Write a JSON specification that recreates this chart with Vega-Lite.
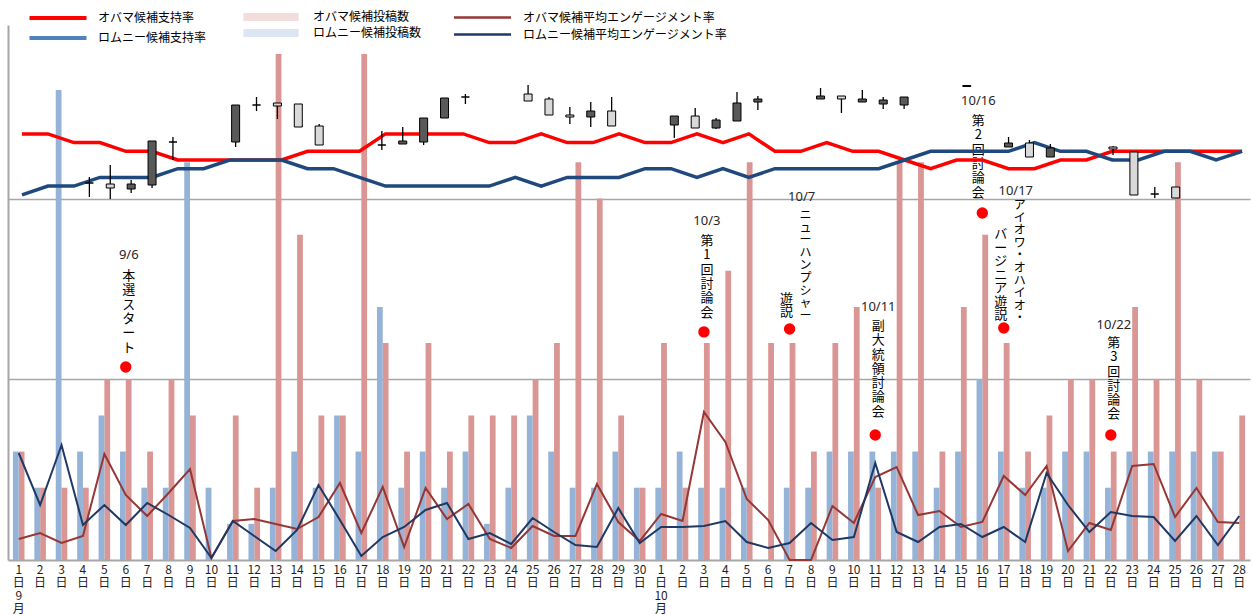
{
"$schema":"https://vega.github.io/schema/vega-lite/v6.json",
"autosize":{"type":"none"},
"width":1242,"height":535,
"padding":{"left":8,"top":25,"right":3,"bottom":55},
"background":"white",
"config":{"view":{"stroke":null},"font":"Noto Sans CJK JP"},
"datasets":{
"daily":[
{"d":1,"オバマ候補投稿数":3,"ロムニー候補投稿数":3,"オバマ候補平均エンゲージメント率":0.21,"ロムニー候補平均エンゲージメント率":1.07},
{"d":2,"オバマ候補投稿数":2,"ロムニー候補投稿数":2,"オバマ候補平均エンゲージメント率":0.27,"ロムニー候補平均エンゲージメント率":0.55},
{"d":3,"オバマ候補投稿数":2,"ロムニー候補投稿数":13,"オバマ候補平均エンゲージメント率":0.17,"ロムニー候補平均エンゲージメント率":1.15},
{"d":4,"オバマ候補投稿数":2,"ロムニー候補投稿数":3,"オバマ候補平均エンゲージメント率":0.24,"ロムニー候補平均エンゲージメント率":0.35},
{"d":5,"オバマ候補投稿数":5,"ロムニー候補投稿数":4,"オバマ候補平均エンゲージメント率":1.06,"ロムニー候補平均エンゲージメント率":0.55},
{"d":6,"オバマ候補投稿数":5,"ロムニー候補投稿数":3,"オバマ候補平均エンゲージメント率":0.65,"ロムニー候補平均エンゲージメント率":0.35},
{"d":7,"オバマ候補投稿数":3,"ロムニー候補投稿数":2,"オバマ候補平均エンゲージメント率":0.44,"ロムニー候補平均エンゲージメント率":0.57},
{"d":8,"オバマ候補投稿数":5,"ロムニー候補投稿数":2,"オバマ候補平均エンゲージメント率":0.67,"ロムニー候補平均エンゲージメント率":0.45},
{"d":9,"オバマ候補投稿数":4,"ロムニー候補投稿数":11,"オバマ候補平均エンゲージメント率":0.91,"ロムニー候補平均エンゲージメント率":0.32},
{"d":10,"オバマ候補投稿数":0,"ロムニー候補投稿数":2,"オバマ候補平均エンゲージメント率":0.02,"ロムニー候補平均エンゲージメント率":0.02},
{"d":11,"オバマ候補投稿数":4,"ロムニー候補投稿数":1,"オバマ候補平均エンゲージメント率":0.39,"ロムニー候補平均エンゲージメント率":0.39},
{"d":12,"オバマ候補投稿数":2,"ロムニー候補投稿数":1,"オバマ候補平均エンゲージメント率":0.41,"ロムニー候補平均エンゲージメント率":0.24},
{"d":13,"オバマ候補投稿数":14,"ロムニー候補投稿数":2,"オバマ候補平均エンゲージメント率":0.36,"ロムニー候補平均エンゲージメント率":0.09},
{"d":14,"オバマ候補投稿数":9,"ロムニー候補投稿数":3,"オバマ候補平均エンゲージメント率":0.31,"ロムニー候補平均エンゲージメント率":0.30},
{"d":15,"オバマ候補投稿数":4,"ロムニー候補投稿数":2,"オバマ候補平均エンゲージメント率":0.43,"ロムニー候補平均エンゲージメント率":0.75},
{"d":16,"オバマ候補投稿数":4,"ロムニー候補投稿数":4,"オバマ候補平均エンゲージメント率":0.77,"ロムニー候補平均エンゲージメント率":0.40},
{"d":17,"オバマ候補投稿数":14,"ロムニー候補投稿数":3,"オバマ候補平均エンゲージメント率":0.27,"ロムニー候補平均エンゲージメント率":0.04},
{"d":18,"オバマ候補投稿数":6,"ロムニー候補投稿数":7,"オバマ候補平均エンゲージメント率":0.73,"ロムニー候補平均エンゲージメント率":0.23},
{"d":19,"オバマ候補投稿数":3,"ロムニー候補投稿数":2,"オバマ候補平均エンゲージメント率":0.13,"ロムニー候補平均エンゲージメント率":0.33},
{"d":20,"オバマ候補投稿数":6,"ロムニー候補投稿数":3,"オバマ候補平均エンゲージメント率":0.72,"ロムニー候補平均エンゲージメント率":0.50},
{"d":21,"オバマ候補投稿数":3,"ロムニー候補投稿数":2,"オバマ候補平均エンゲージメント率":0.41,"ロムニー候補平均エンゲージメント率":0.57},
{"d":22,"オバマ候補投稿数":4,"ロムニー候補投稿数":3,"オバマ候補平均エンゲージメント率":0.56,"ロムニー候補平均エンゲージメント率":0.21},
{"d":23,"オバマ候補投稿数":4,"ロムニー候補投稿数":1,"オバマ候補平均エンゲージメント率":0.21,"ロムニー候補平均エンゲージメント率":0.27},
{"d":24,"オバマ候補投稿数":4,"ロムニー候補投稿数":2,"オバマ候補平均エンゲージメント率":0.12,"ロムニー候補平均エンゲージメント率":0.16},
{"d":25,"オバマ候補投稿数":5,"ロムニー候補投稿数":4,"オバマ候補平均エンゲージメント率":0.34,"ロムニー候補平均エンゲージメント率":0.42},
{"d":26,"オバマ候補投稿数":6,"ロムニー候補投稿数":3,"オバマ候補平均エンゲージメント率":0.24,"ロムニー候補平均エンゲージメント率":0.28},
{"d":27,"オバマ候補投稿数":11,"ロムニー候補投稿数":2,"オバマ候補平均エンゲージメント率":0.24,"ロムニー候補平均エンゲージメント率":0.15},
{"d":28,"オバマ候補投稿数":10,"ロムニー候補投稿数":2,"オバマ候補平均エンゲージメント率":0.76,"ロムニー候補平均エンゲージメント率":0.13},
{"d":29,"オバマ候補投稿数":4,"ロムニー候補投稿数":3,"オバマ候補平均エンゲージメント率":0.38,"ロムニー候補平均エンゲージメント率":0.52},
{"d":30,"オバマ候補投稿数":2,"ロムニー候補投稿数":2,"オバマ候補平均エンゲージメント率":0.19,"ロムニー候補平均エンゲージメント率":0.17},
{"d":31,"オバマ候補投稿数":6,"ロムニー候補投稿数":2,"オバマ候補平均エンゲージメント率":0.46,"ロムニー候補平均エンゲージメント率":0.33},
{"d":32,"オバマ候補投稿数":2,"ロムニー候補投稿数":3,"オバマ候補平均エンゲージメント率":0.39,"ロムニー候補平均エンゲージメント率":0.33},
{"d":33,"オバマ候補投稿数":6,"ロムニー候補投稿数":2,"オバマ候補平均エンゲージメント率":1.48,"ロムニー候補平均エンゲージメント率":0.34},
{"d":34,"オバマ候補投稿数":8,"ロムニー候補投稿数":2,"オバマ候補平均エンゲージメント率":1.18,"ロムニー候補平均エンゲージメント率":0.39},
{"d":35,"オバマ候補投稿数":11,"ロムニー候補投稿数":2,"オバマ候補平均エンゲージメント率":0.61,"ロムニー候補平均エンゲージメント率":0.18},
{"d":36,"オバマ候補投稿数":6,"ロムニー候補投稿数":0,"オバマ候補平均エンゲージメント率":0.40,"ロムニー候補平均エンゲージメント率":0.12},
{"d":37,"オバマ候補投稿数":6,"ロムニー候補投稿数":2,"オバマ候補平均エンゲージメント率":0.00,"ロムニー候補平均エンゲージメント率":0.17},
{"d":38,"オバマ候補投稿数":3,"ロムニー候補投稿数":2,"オバマ候補平均エンゲージメント率":0.00,"ロムニー候補平均エンゲージメント率":0.37},
{"d":39,"オバマ候補投稿数":6,"ロムニー候補投稿数":3,"オバマ候補平均エンゲージメント率":0.54,"ロムニー候補平均エンゲージメント率":0.20},
{"d":40,"オバマ候補投稿数":7,"ロムニー候補投稿数":3,"オバマ候補平均エンゲージメント率":0.37,"ロムニー候補平均エンゲージメント率":0.23},
{"d":41,"オバマ候補投稿数":2,"ロムニー候補投稿数":3,"オバマ候補平均エンゲージメント率":0.83,"ロムニー候補平均エンゲージメント率":0.97},
{"d":42,"オバマ候補投稿数":11,"ロムニー候補投稿数":3,"オバマ候補平均エンゲージメント率":0.93,"ロムニー候補平均エンゲージメント率":0.28},
{"d":43,"オバマ候補投稿数":11,"ロムニー候補投稿数":3,"オバマ候補平均エンゲージメント率":0.45,"ロムニー候補平均エンゲージメント率":0.18},
{"d":44,"オバマ候補投稿数":3,"ロムニー候補投稿数":2,"オバマ候補平均エンゲージメント率":0.49,"ロムニー候補平均エンゲージメント率":0.33},
{"d":45,"オバマ候補投稿数":7,"ロムニー候補投稿数":3,"オバマ候補平均エンゲージメント率":0.33,"ロムニー候補平均エンゲージメント率":0.36},
{"d":46,"オバマ候補投稿数":9,"ロムニー候補投稿数":5,"オバマ候補平均エンゲージメント率":0.38,"ロムニー候補平均エンゲージメント率":0.23},
{"d":47,"オバマ候補投稿数":6,"ロムニー候補投稿数":3,"オバマ候補平均エンゲージメント率":0.84,"ロムニー候補平均エンゲージメント率":0.33},
{"d":48,"オバマ候補投稿数":3,"ロムニー候補投稿数":2,"オバマ候補平均エンゲージメント率":0.65,"ロムニー候補平均エンゲージメント率":0.18},
{"d":49,"オバマ候補投稿数":4,"ロムニー候補投稿数":2,"オバマ候補平均エンゲージメント率":0.94,"ロムニー候補平均エンゲージメント率":0.87},
{"d":50,"オバマ候補投稿数":5,"ロムニー候補投稿数":3,"オバマ候補平均エンゲージメント率":0.09,"ロムニー候補平均エンゲージメント率":0.55},
{"d":51,"オバマ候補投稿数":5,"ロムニー候補投稿数":3,"オバマ候補平均エンゲージメント率":0.37,"ロムニー候補平均エンゲージメント率":0.28},
{"d":52,"オバマ候補投稿数":3,"ロムニー候補投稿数":2,"オバマ候補平均エンゲージメント率":0.30,"ロムニー候補平均エンゲージメント率":0.48},
{"d":53,"オバマ候補投稿数":7,"ロムニー候補投稿数":3,"オバマ候補平均エンゲージメント率":0.94,"ロムニー候補平均エンゲージメント率":0.44},
{"d":54,"オバマ候補投稿数":5,"ロムニー候補投稿数":3,"オバマ候補平均エンゲージメント率":0.96,"ロムニー候補平均エンゲージメント率":0.43},
{"d":55,"オバマ候補投稿数":11,"ロムニー候補投稿数":3,"オバマ候補平均エンゲージメント率":0.43,"ロムニー候補平均エンゲージメント率":0.19},
{"d":56,"オバマ候補投稿数":5,"ロムニー候補投稿数":3,"オバマ候補平均エンゲージメント率":0.72,"ロムニー候補平均エンゲージメント率":0.44},
{"d":57,"オバマ候補投稿数":3,"ロムニー候補投稿数":3,"オバマ候補平均エンゲージメント率":0.38,"ロムニー候補平均エンゲージメント率":0.15},
{"d":58,"オバマ候補投稿数":4,"ロムニー候補投稿数":0,"オバマ候補平均エンゲージメント率":0.37,"ロムニー候補平均エンゲージメント率":0.44}
],
"support":[
{"k":1,"オバマ候補支持率":50,"ロムニー候補支持率":43},{"k":2,"オバマ候補支持率":50,"ロムニー候補支持率":44},
{"k":3,"オバマ候補支持率":49,"ロムニー候補支持率":44},{"k":4,"オバマ候補支持率":49,"ロムニー候補支持率":45},
{"k":5,"オバマ候補支持率":48,"ロムニー候補支持率":45},{"k":6,"オバマ候補支持率":48,"ロムニー候補支持率":45},
{"k":7,"オバマ候補支持率":47,"ロムニー候補支持率":46},{"k":8,"オバマ候補支持率":47,"ロムニー候補支持率":46},
{"k":9,"オバマ候補支持率":47,"ロムニー候補支持率":47},{"k":10,"オバマ候補支持率":47,"ロムニー候補支持率":47},
{"k":11,"オバマ候補支持率":47,"ロムニー候補支持率":47},{"k":12,"オバマ候補支持率":48,"ロムニー候補支持率":46},
{"k":13,"オバマ候補支持率":48,"ロムニー候補支持率":46},{"k":14,"オバマ候補支持率":48,"ロムニー候補支持率":45},
{"k":15,"オバマ候補支持率":50,"ロムニー候補支持率":44},{"k":16,"オバマ候補支持率":50,"ロムニー候補支持率":44},
{"k":17,"オバマ候補支持率":50,"ロムニー候補支持率":44},{"k":18,"オバマ候補支持率":50,"ロムニー候補支持率":44},
{"k":19,"オバマ候補支持率":49,"ロムニー候補支持率":44},{"k":20,"オバマ候補支持率":49,"ロムニー候補支持率":45},
{"k":21,"オバマ候補支持率":50,"ロムニー候補支持率":44},{"k":22,"オバマ候補支持率":49,"ロムニー候補支持率":45},
{"k":23,"オバマ候補支持率":49,"ロムニー候補支持率":45},{"k":24,"オバマ候補支持率":50,"ロムニー候補支持率":45},
{"k":25,"オバマ候補支持率":49,"ロムニー候補支持率":46},{"k":26,"オバマ候補支持率":49,"ロムニー候補支持率":46},
{"k":27,"オバマ候補支持率":50,"ロムニー候補支持率":45},{"k":28,"オバマ候補支持率":49,"ロムニー候補支持率":46},
{"k":29,"オバマ候補支持率":50,"ロムニー候補支持率":45},{"k":30,"オバマ候補支持率":48,"ロムニー候補支持率":46},
{"k":31,"オバマ候補支持率":48,"ロムニー候補支持率":46},{"k":32,"オバマ候補支持率":49,"ロムニー候補支持率":46},
{"k":33,"オバマ候補支持率":48,"ロムニー候補支持率":46},{"k":34,"オバマ候補支持率":48,"ロムニー候補支持率":46},
{"k":35,"オバマ候補支持率":47,"ロムニー候補支持率":47},{"k":36,"オバマ候補支持率":46,"ロムニー候補支持率":48},
{"k":37,"オバマ候補支持率":47,"ロムニー候補支持率":48},{"k":38,"オバマ候補支持率":47,"ロムニー候補支持率":48},
{"k":39,"オバマ候補支持率":46,"ロムニー候補支持率":48},{"k":40,"オバマ候補支持率":46,"ロムニー候補支持率":49},
{"k":41,"オバマ候補支持率":47,"ロムニー候補支持率":48},{"k":42,"オバマ候補支持率":47,"ロムニー候補支持率":48},
{"k":43,"オバマ候補支持率":48,"ロムニー候補支持率":47},{"k":44,"オバマ候補支持率":48,"ロムニー候補支持率":47},
{"k":45,"オバマ候補支持率":48,"ロムニー候補支持率":48},{"k":46,"オバマ候補支持率":48,"ロムニー候補支持率":48},
{"k":47,"オバマ候補支持率":48,"ロムニー候補支持率":47},{"k":48,"オバマ候補支持率":48,"ロムニー候補支持率":48}
],
"candles":[
{"day":4,"o":37.7,"c":37.7,"h":38.3,"l":36.3},{"day":5,"o":37.2,"c":37.6,"h":39.5,"l":36.1},
{"day":6,"o":37.6,"c":37.1,"h":38.0,"l":36.7},{"day":7,"o":41.9,"c":37.5,"h":41.9,"l":37.2},
{"day":8,"o":41.8,"c":41.8,"h":42.3,"l":40.0},{"day":11,"o":45.5,"c":41.8,"h":45.5,"l":41.3},
{"day":12,"o":45.5,"c":45.5,"h":46.3,"l":44.9},{"day":13,"o":45.4,"c":45.7,"h":45.7,"l":44.1},
{"day":14,"o":43.3,"c":45.6,"h":45.6,"l":43.3},{"day":15,"o":41.5,"c":43.4,"h":43.6,"l":41.5},
{"day":18,"o":41.5,"c":41.5,"h":42.9,"l":41.0},{"day":19,"o":41.9,"c":41.6,"h":43.3,"l":41.6},
{"day":20,"o":44.2,"c":41.8,"h":44.2,"l":41.5},{"day":21,"o":46.2,"c":44.2,"h":46.2,"l":44.2},
{"day":22,"o":46.3,"c":46.3,"h":46.6,"l":45.6},{"day":25,"o":45.9,"c":46.6,"h":47.5,"l":45.9},
{"day":26,"o":44.5,"c":46.1,"h":46.3,"l":44.5},{"day":27,"o":44.3,"c":44.5,"h":45.3,"l":43.6},
{"day":28,"o":44.9,"c":44.3,"h":45.8,"l":43.3},{"day":29,"o":43.4,"c":44.9,"h":46.3,"l":43.4},
{"day":32,"o":44.4,"c":43.5,"h":44.4,"l":42.2},{"day":33,"o":43.2,"c":44.4,"h":45.2,"l":43.2},
{"day":34,"o":44.0,"c":43.2,"h":44.2,"l":43.1},{"day":35,"o":45.7,"c":43.9,"h":46.8,"l":43.9},
{"day":36,"o":46.1,"c":45.8,"h":46.4,"l":45.0},{"day":39,"o":46.4,"c":46.1,"h":47.2,"l":46.1},
{"day":40,"o":46.1,"c":46.4,"h":46.4,"l":44.7},{"day":41,"o":46.1,"c":45.8,"h":47.0,"l":45.8},
{"day":42,"o":46.0,"c":45.6,"h":46.3,"l":45.1},{"day":43,"o":46.3,"c":45.5,"h":46.3,"l":45.1},
{"day":46,"o":47.45,"c":47.35,"h":47.45,"l":47.35},{"day":48,"o":41.7,"c":41.3,"h":42.3,"l":41.3},
{"day":49,"o":40.3,"c":41.7,"h":42.0,"l":40.3},{"day":50,"o":41.2,"c":40.3,"h":41.6,"l":40.3},
{"day":53,"o":41.1,"c":41.3,"h":41.4,"l":40.5},{"day":54,"o":36.5,"c":40.8,"h":40.8,"l":36.5},
{"day":55,"o":36.6,"c":36.6,"h":37.3,"l":36.2},{"day":56,"o":36.2,"c":37.3,"h":37.3,"l":36.2}
],
"ann":[
{"d":6,"date":"9/6","dateY":8.44,"dotY":5.34},
{"d":33,"date":"10/3","dateY":9.38,"dotY":6.31},
{"d":37,"date":"10/7","dateY":10.04,"dotY":6.39},
{"d":41,"date":"10/11","dateY":7.0,"dotY":3.46},
{"d":46,"date":"10/16","dateY":12.7,"dotY":9.6},
{"d":47,"date":"10/17","dateY":10.21,"dotY":6.42},
{"d":52,"date":"10/22","dateY":6.5,"dotY":3.46}
],
"vt":[
{"d":6,"t":"本\n選\nス\nタ\nー\nト","ty":8.02,"col":"c"},
{"d":33,"t":"第\n1\n回\n討\n論\n会","ty":8.99,"col":"c"},
{"d":41,"t":"副\n大\n統\n領\n討\n論\n会","ty":6.64,"col":"c"},
{"d":46,"t":"第\n2\n回\n討\n論\n会","ty":12.31,"col":"c"},
{"d":52,"t":"第\n3\n回\n討\n論\n会","ty":6.17,"col":"c"},
{"d":37,"t":"ニ\nュ\nー\nハ\nン\nプ\nシ\nャ\nー","ty":9.68,"col":"r"},
{"d":47,"t":"ア\nイ\nオ\nワ\n・\nオ\nハ\nイ\nオ\n・","ty":9.96,"col":"r"},
{"d":37,"t":"遊\n説","ty":7.39,"col":"l"},
{"d":47,"t":"バ\nー\nジ\nニ\nア\n遊\n説","ty":9.18,"col":"l"}
]
},
"layer":[
{
"layer":[
{
"data":{"name":"daily"},
"transform":[{"fold":["オバマ候補投稿数","ロムニー候補投稿数"],"as":["p","cnt"]}],
"mark":{"type":"bar"},
"encoding":{
"x":{"field":"d","type":"ordinal","scale":{"paddingInner":0.46,"paddingOuter":0.23},
"axis":{"title":null,"labelAngle":0,"ticks":false,"domainColor":"#A6A6A6","domainWidth":2,"labelFontSize":12,"labelLineHeight":13,"labelPadding":4,"labelColor":"#1F1F1F","labelFont":"Noto Sans CJK JP","labelBaseline":"top",
"labelExpr":"datum.value == 1 ? ['1','日','9','月'] : datum.value == 31 ? ['1','日','10','月'] : [(datum.value > 30 ? datum.value - 30 : datum.value) + '', '日']"}},
"xOffset":{"field":"p","type":"nominal","scale":{"domain":["ロムニー候補投稿数","オバマ候補投稿数"],"paddingInner":0,"paddingOuter":0}},
"y":{"field":"cnt","type":"quantitative","scale":{"domain":[0,14.8],"nice":false,"zero":false},
"axis":{"title":null,"labels":false,"ticks":false,"values":[5,10],"grid":true,"gridColor":"#A6A6A6","gridWidth":1.5,"domainColor":"#A6A6A6","domainWidth":2}},
"fill":{"field":"p","type":"nominal","scale":{"domain":["オバマ候補投稿数","ロムニー候補投稿数"],"range":["#D99694","#95B3D7"]},
"legend":{"orient":"none","legendX":257,"legendY":-14,"direction":"vertical","title":null,"symbolType":"M-5.5,-0.8H5.5V0.8H-5.5Z","symbolSize":100,"symbolStrokeWidth":0,"symbolOpacity":0.33,"labelOffset":36,"rowPadding":4,"labelFontSize":12,"labelFont":"Noto Sans CJK JP","labelColor":"#000","labelLimit":400}}
}
},
{
"data":{"name":"daily"},
"transform":[{"fold":["オバマ候補平均エンゲージメント率","ロムニー候補平均エンゲージメント率"],"as":["e","rate"]}],
"mark":{"type":"line","strokeWidth":2},
"encoding":{
"x":{"field":"d","type":"ordinal"},
"y":{"field":"rate","type":"quantitative","scale":{"domain":[0,5.35],"nice":false,"zero":false},"axis":null},
"color":{"field":"e","type":"nominal","scale":{"domain":["オバマ候補平均エンゲージメント率","ロムニー候補平均エンゲージメント率"],"range":["#953735","#1F3864"]},
"legend":{"orient":"none","legendX":468,"legendY":-14,"direction":"vertical","title":null,"symbolType":"M-5.7,0H5.7","symbolSize":100,"symbolStrokeWidth":2.5,"labelOffset":34,"rowPadding":4,"labelFontSize":12,"labelFont":"Noto Sans CJK JP","labelColor":"#000","labelLimit":400}}
}
},
{
"data":{"name":"ann"},
"mark":{"type":"point","filled":true,"size":130,"color":"#FF0000","opacity":1},
"encoding":{
"x":{"field":"d","type":"ordinal"},
"y":{"field":"dotY","type":"quantitative","scale":{"domain":[0,14.8],"nice":false,"zero":false},"axis":null}
}
},
{
"data":{"name":"ann"},
"transform":[{"filter":"datum.d != 37 && datum.d != 47 && datum.d != 46"}],
"mark":{"type":"text","font":"Noto Sans","fontSize":13,"color":"#262626","baseline":"middle","align":"center","dx":3},
"encoding":{
"x":{"field":"d","type":"ordinal"},
"y":{"field":"dateY","type":"quantitative","scale":{"domain":[0,14.8],"nice":false,"zero":false},"axis":null},
"text":{"field":"date","type":"nominal"}
}
},
{
"data":{"name":"ann"},
"transform":[{"filter":"datum.d == 46"}],
"mark":{"type":"text","font":"Noto Sans","fontSize":13,"color":"#262626","baseline":"middle","align":"center","dx":-4},
"encoding":{
"x":{"field":"d","type":"ordinal"},
"y":{"field":"dateY","type":"quantitative","scale":{"domain":[0,14.8],"nice":false,"zero":false},"axis":null},
"text":{"field":"date","type":"nominal"}
}
},
{
"data":{"name":"ann"},
"transform":[{"filter":"datum.d == 37 || datum.d == 47"}],
"mark":{"type":"text","font":"Noto Sans","fontSize":13,"color":"#262626","baseline":"middle","align":"center","dx":12},
"encoding":{
"x":{"field":"d","type":"ordinal"},
"y":{"field":"dateY","type":"quantitative","scale":{"domain":[0,14.8],"nice":false,"zero":false},"axis":null},
"text":{"field":"date","type":"nominal"}
}
},
{
"data":{"name":"vt"},
"transform":[{"filter":"datum.col == 'c' && datum.d != 46"}],
"mark":{"type":"text","lineBreak":"\n","fontSize":13,"lineHeight":14.3,"baseline":"top","align":"center","color":"#000","dx":3},
"encoding":{
"x":{"field":"d","type":"ordinal"},
"y":{"field":"ty","type":"quantitative","scale":{"domain":[0,14.8],"nice":false,"zero":false},"axis":null},
"text":{"field":"t","type":"nominal"}
}
},
{
"data":{"name":"vt"},
"transform":[{"filter":"datum.col == 'c' && datum.d == 46"}],
"mark":{"type":"text","lineBreak":"\n","fontSize":13,"lineHeight":14.3,"baseline":"top","align":"center","color":"#000","dx":-4},
"encoding":{
"x":{"field":"d","type":"ordinal"},
"y":{"field":"ty","type":"quantitative","scale":{"domain":[0,14.8],"nice":false,"zero":false},"axis":null},
"text":{"field":"t","type":"nominal"}
}
},
{
"data":{"name":"vt"},
"transform":[{"filter":"datum.col == 'r'"}],
"mark":{"type":"text","lineBreak":"\n","fontSize":12,"lineHeight":12.6,"baseline":"top","align":"center","color":"#000","dx":16},
"encoding":{
"x":{"field":"d","type":"ordinal"},
"y":{"field":"ty","type":"quantitative","scale":{"domain":[0,14.8],"nice":false,"zero":false},"axis":null},
"text":{"field":"t","type":"nominal"}
}
},
{
"data":{"name":"vt"},
"transform":[{"filter":"datum.col == 'l'"}],
"mark":{"type":"text","lineBreak":"\n","fontSize":13,"lineHeight":13.5,"baseline":"top","align":"center","color":"#000","dx":-3},
"encoding":{
"x":{"field":"d","type":"ordinal"},
"y":{"field":"ty","type":"quantitative","scale":{"domain":[0,14.8],"nice":false,"zero":false},"axis":null},
"text":{"field":"t","type":"nominal"}
}
}
],
"resolve":{"scale":{"y":"independent"}}
},
{
"data":{"name":"support"},
"transform":[{"fold":["オバマ候補支持率","ロムニー候補支持率"],"as":["s","pct"]}],
"mark":{"type":"line","strokeWidth":3.5,"opacity":0},
"encoding":{
"x":{"field":"k","type":"quantitative","scale":{"domain":[0.4607,48.304],"nice":false,"zero":false},"axis":null},
"y":{"field":"pct","type":"quantitative","scale":{"domain":[1.02,62.52],"nice":false,"zero":false},"axis":null},
"stroke":{"field":"s","type":"nominal","scale":{"domain":["オバマ候補支持率","ロムニー候補支持率"],"range":["#FF0000","#4F81BD"]},
"legend":{"orient":"none","legendX":43,"legendY":-14,"direction":"vertical","title":null,"symbolType":"M-5.7,0H5.7","symbolSize":100,"symbolStrokeWidth":4,"symbolOpacity":1,"labelOffset":33,"rowPadding":4,"labelFontSize":12,"labelFont":"Noto Sans CJK JP","labelColor":"#000","labelLimit":400}}
}
},
{
"data":{"name":"support"},
"transform":[{"fold":["オバマ候補支持率","ロムニー候補支持率"],"as":["s","pct"]}],
"mark":{"type":"line","strokeWidth":3.5},
"encoding":{
"x":{"field":"k","type":"quantitative","scale":{"domain":[0.4607,48.304],"nice":false,"zero":false},"axis":null},
"y":{"field":"pct","type":"quantitative","scale":{"domain":[1.02,62.52],"nice":false,"zero":false},"axis":null},
"detail":{"field":"s","type":"nominal"},
"stroke":{"condition":{"test":"datum.s === 'オバマ候補支持率'","value":"#FF0000"},"value":"#1F497D"}
}
},
{
"data":{"name":"candles"},
"layer":[
{"mark":{"type":"rule","color":"#000","strokeWidth":1.3},
"encoding":{
"x":{"field":"day","type":"quantitative","scale":{"domain":[0.3438,59.318],"nice":false,"zero":false},"axis":null},
"y":{"field":"l","type":"quantitative","scale":{"domain":[0,53.5],"nice":false,"zero":false},"axis":null},
"y2":{"field":"h"}}},
{"mark":{"type":"bar","size":8,"stroke":"#000","strokeWidth":1},
"encoding":{
"x":{"field":"day","type":"quantitative","axis":null},
"y":{"field":"o","type":"quantitative","axis":null},
"y2":{"field":"c"},
"fill":{"condition":{"test":"datum.c > datum.o","value":"#D9D9D9"},"value":"#595959"}}}
]
}
],
"resolve":{"scale":{"x":"independent","y":"independent"}}
}
